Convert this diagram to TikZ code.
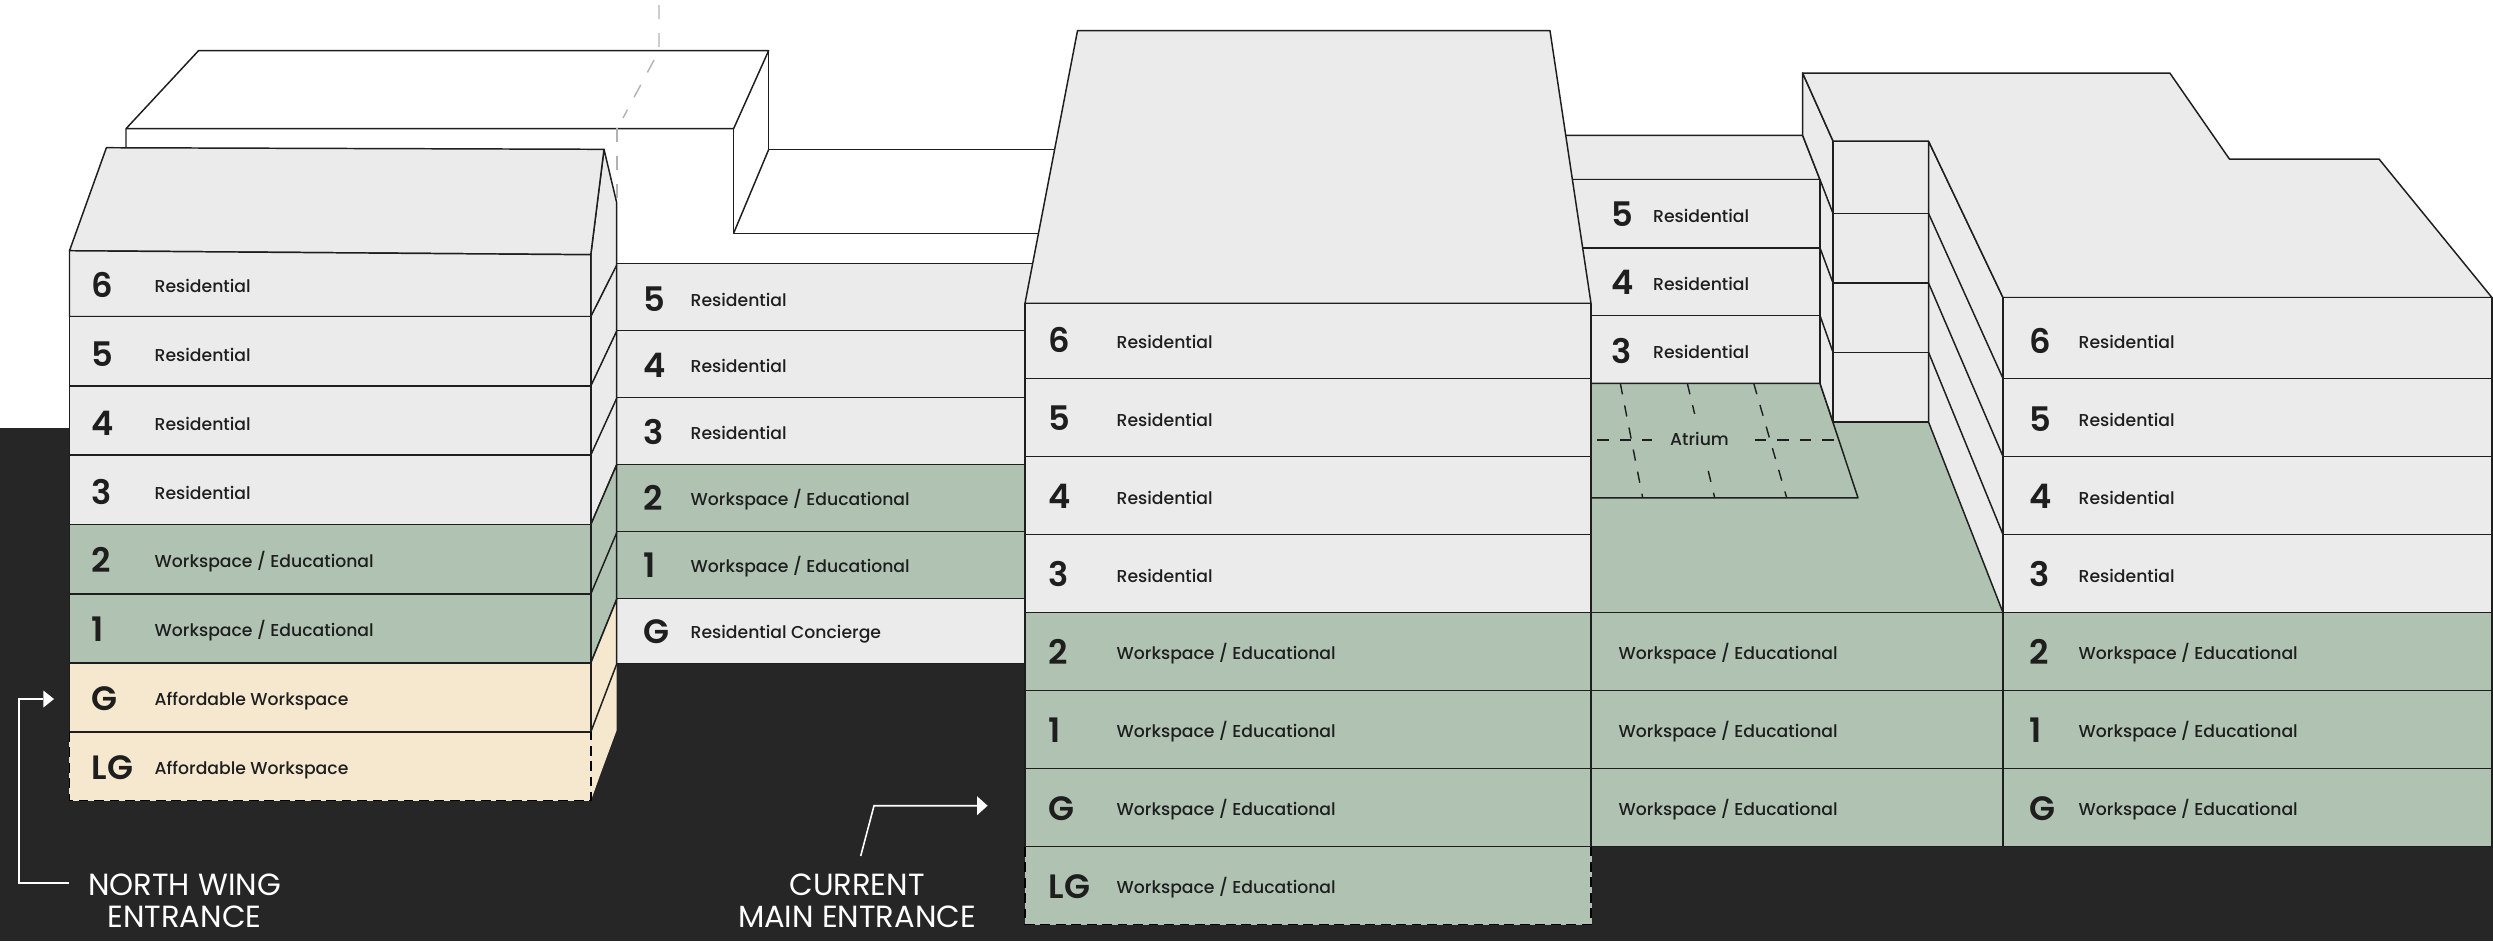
\documentclass[tikz,border=0pt]{standalone}
\usepackage{fontspec}
\setmainfont{Poppins}
\newfontfamily\usagefont{Poppins Medium}
\newfontfamily\levelfont{Poppins SemiBold}
\usepackage{tikz}
\usetikzlibrary{arrows}
\definecolor{dark}{HTML}{262626}
\definecolor{ink}{HTML}{1E1E1E}
\definecolor{flat}{HTML}{EBEBEB}
\definecolor{sage}{HTML}{B0C3B3}
\definecolor{cream}{HTML}{F6E8CF}
\tikzset{
  edge/.style={draw=ink,line width=0.42pt,line join=round},
  hidden/.style={draw=black,line width=0.45pt,dash pattern=on 2.8pt off 1.6pt},
  ghost/.style={draw=black!30,line width=0.4pt,dash pattern=on 4pt off 4pt},
  floorline/.style={draw=ink,line width=0.4pt,dash pattern=on 3.2pt off 3.2pt},
  flatfloor/.style={edge,fill=flat},
  sagefloor/.style={edge,fill=sage},
  creamfloor/.style={edge,fill=cream},
  level/.style={anchor=base west,inner sep=0pt,text=ink,yshift=-3.13pt,font=\fontsize{9.6}{10}\levelfont},
  usage/.style={anchor=base west,inner sep=0pt,text=ink,yshift=-1.85pt,font=\fontsize{4.9}{6}\usagefont},
  entrance/.style={align=center,inner sep=0pt,text=white,font=\fontsize{8.7}{8.95}\selectfont},
  walk/.style={draw=white,line width=0.45pt}
}
\begin{document}
\begin{tikzpicture}[>=stealth,x=0.01cm,y=-0.01cm]
        \useasboundingbox (0,0) rectangle (2493,941);
        % Ground
        \fill[dark] (0,428) rectangle (2493,941);
        % Upper wing, white
        \draw[edge] (126,149) -- (126,128.7) -- (198.5,50.7) -- (768.6,50.7) -- (733.6,128.7) -- (126,128.7);
        \draw[edge] (768.6,50.7) -- (768.6,149.7) -- (1060,149.7);
        \draw[edge] (733.6,128.7) -- (733.6,233.3) -- (1045,233.3);
        \draw[edge] (768.6,149.7) -- (733.6,233.3);
        \draw[ghost] (659,5) -- (659,50.7) -- (623,118);
        \draw[ghost] (617,128) -- (617,200);
        % Connecting wing
        \path[flatfloor] (616.7,263.7) rectangle (1045,330.7);
        \path[flatfloor] (616.7,330.7) rectangle (1045,397.3);
        \path[flatfloor] (616.7,397.3) rectangle (1045,464.3);
        \path[sagefloor] (616.7,464.3) rectangle (1045,531.3);
        \path[sagefloor] (616.7,531.3) rectangle (1045,598.3);
        \path[flatfloor] (616.7,598.3) rectangle (1045,663.3);
        % North wing, side
        \path[flatfloor] (604,149.3) -- (616.7,202.7) -- (616.7,464.7) -- (590.8,524.7) -- (590.8,254.7) -- cycle;
        \path[sagefloor] (590.8,524.7) -- (616.7,464.7) -- (616.7,599.3) -- (590.8,663) -- cycle;
        \fill[cream] (590.8,663) -- (616.7,599.3) -- (616.7,730) -- (600.8,773) -- (590.8,800.8) -- cycle;
        \draw[edge] (590.8,663) -- (616.7,599.3) -- (616.7,664) -- (590.8,732);
        \draw[edge] (590.8,316.7) -- (616.7,265);
        \draw[edge] (590.8,386) -- (616.7,331);
        \draw[edge] (590.8,455) -- (616.7,398.3);
        \draw[edge] (590.8,594) -- (616.7,532.7);
        % North wing, front
        \path[flatfloor] (69.5,250.7) -- (106.4,147.7) -- (604,149.3) -- (590.8,254.7) -- cycle;
        \path[flatfloor] (69.5,250.7) -- (590.8,254.7) -- (590.8,316.7) -- (69.5,316.7) -- cycle;
        \path[flatfloor] (69.5,316.7) rectangle (590.8,386);
        \path[flatfloor] (69.5,386) rectangle (590.8,455);
        \path[flatfloor] (69.5,455) rectangle (590.8,524.7);
        \path[sagefloor] (69.5,524.7) rectangle (590.8,594);
        \path[sagefloor] (69.5,594) rectangle (590.8,663);
        \path[creamfloor] (69.5,663) rectangle (590.8,732);
        \fill[cream] (69,732) rectangle (590.8,800.8);
        \draw[edge] (69.5,732) -- (590.8,732);
        \draw[hidden] (69.5,732) -- (69.5,800.3) -- (590.8,800.3) -- (590.8,732);
        % Atrium
        \path[flatfloor] (1555,135.3) -- (1802.6,135.3) -- (1820,179.7) -- (1555,179.7) -- cycle;
        \path[flatfloor] (1555,179.7) rectangle (1820,247.9);
        \path[flatfloor] (1555,247.9) rectangle (1820,315.6);
        \path[flatfloor] (1555,315.6) rectangle (1820,383.3);
        \fill[sage] (1591,383.3) -- (1820,383.3) -- (1833,422) -- (1928.5,422) -- (2003,612.6) -- (1591,612.6) -- cycle;
        \draw[edge] (1591,497.8) -- (1858,497.8) -- (1820,383.3) -- (1591,383.3);
        \draw[floorline] (1620.3,383.3) -- (1642.7,497.8);
        \draw[floorline] (1687.3,383.3) -- (1714.7,497.8);
        \draw[floorline] (1753.7,383.3) -- (1786.7,497.8);
        \draw[floorline] (1597.3,440) -- (1839,440);
        % Central block, front
        \path[flatfloor] (1025,303.3) -- (1077.5,30.7) -- (1550,30.7) -- (1591,303.3) -- cycle;
        \path[flatfloor] (1025,303.3) rectangle (1591,378.5);
        \path[flatfloor] (1025,378.5) rectangle (1591,456.4);
        \path[flatfloor] (1025,456.4) rectangle (1591,534.5);
        \path[flatfloor] (1025,534.5) rectangle (1591,612.6);
        \path[sagefloor] (1025,612.6) rectangle (1591,690.3);
        \path[sagefloor] (1025,690.3) rectangle (1591,768.3);
        \path[sagefloor] (1025,768.3) rectangle (1591,846.7);
        \fill[sage] (1024.5,846.7) rectangle (1591.5,924.8);
        \draw[edge] (1025,846.7) -- (1591,846.7);
        \draw[hidden] (1025,846.7) -- (1025,924.3) -- (1591,924.3) -- (1591,846.7);
        % Back of east wing
        \path[flatfloor] (1802.6,73) -- (1833,141) -- (1833,422) -- (1820,383.3) -- (1820,179.7) -- (1802.6,135.3) -- cycle;
        \draw[edge] (1820,179.7) -- (1833,213.4);
        \draw[edge] (1820,247.9) -- (1833,283);
        \draw[edge] (1820,315.6) -- (1833,352.3);
        \path[flatfloor] (1833,141) rectangle (1928.5,213.4);
        \path[flatfloor] (1833,213.4) rectangle (1928.5,283);
        \path[flatfloor] (1833,283) rectangle (1928.5,352.3);
        \path[flatfloor] (1833,352.3) rectangle (1928.5,422);
        \path[flatfloor] (1928.5,141) -- (2003,297.6) -- (2003,612.6) -- (1928.5,422) -- cycle;
        \draw[edge] (1928.5,213.4) -- (2003,378.5);
        \draw[edge] (1928.5,283) -- (2003,456.4);
        \draw[edge] (1928.5,352.3) -- (2003,534.5);
        % East wing, front
        \path[flatfloor] (1802.6,73) -- (2169.8,73) -- (2229.4,159) -- (2379,159) -- (2492,297.6) -- (2003,297.6) -- (1928.5,141) -- (1833,141) -- cycle;
        \path[flatfloor] (2003,297.6) rectangle (2492,378.5);
        \path[flatfloor] (2003,378.5) rectangle (2492,456.4);
        \path[flatfloor] (2003,456.4) rectangle (2492,534.5);
        \path[flatfloor] (2003,534.5) rectangle (2492,612.6);
        \path[sagefloor] (1591,612.6) rectangle (2003,690.3);
        \path[sagefloor] (1591,690.3) rectangle (2003,768.3);
        \path[sagefloor] (1591,768.3) rectangle (2003,846.7);
        \path[sagefloor] (2003,612.6) rectangle (2492,690.3);
        \path[sagefloor] (2003,690.3) rectangle (2492,768.3);
        \path[sagefloor] (2003,768.3) rectangle (2492,846.7);
        % Nodes, north wing
        \node(northsix) at (91,286)[level] {6};
        \node(northsixuse) at (154,286)[usage] {Residential};
        \node(northfive) at (91,355)[level] {5};
        \node(northfiveuse) at (154,355)[usage] {Residential};
        \node(northfour) at (91,424)[level] {4};
        \node(northfouruse) at (154,424)[usage] {Residential};
        \node(norththree) at (91,493)[level] {3};
        \node(norththreeuse) at (154,493)[usage] {Residential};
        \node(northtwo) at (91,561)[level] {2};
        \node(northtwouse) at (154,561)[usage] {Workspace / Educational};
        \node(northone) at (91,630)[level] {1};
        \node(northoneuse) at (154,630)[usage] {Workspace / Educational};
        \node(northground) at (91,699)[level] {G};
        \node(northgrounduse) at (154,699)[usage] {Affordable Workspace};
        \node(northlower) at (91,768)[level] {LG};
        \node(northloweruse) at (154,768)[usage] {Affordable Workspace};
        % Nodes, connecting wing
        \node(linkfive) at (643,300)[level] {5};
        \node(linkfiveuse) at (690,300)[usage] {Residential};
        \node(linkfour) at (643,366)[level] {4};
        \node(linkfouruse) at (690,366)[usage] {Residential};
        \node(linkthree) at (643,433)[level] {3};
        \node(linkthreeuse) at (690,433)[usage] {Residential};
        \node(linktwo) at (643,499)[level] {2};
        \node(linktwouse) at (690,499)[usage] {Workspace / Educational};
        \node(linkone) at (643,566)[level] {1};
        \node(linkoneuse) at (690,566)[usage] {Workspace / Educational};
        \node(linkground) at (643,632)[level] {G};
        \node(linkgrounduse) at (690,632)[usage] {Residential Concierge};
        % Nodes, central block
        \node(midsix) at (1048,341.5)[level] {6};
        \node(midsixuse) at (1116,341.5)[usage] {Residential};
        \node(midfive) at (1048,419.5)[level] {5};
        \node(midfiveuse) at (1116,419.5)[usage] {Residential};
        \node(midfour) at (1048,497.5)[level] {4};
        \node(midfouruse) at (1116,497.5)[usage] {Residential};
        \node(midthree) at (1048,575.5)[level] {3};
        \node(midthreeuse) at (1116,575.5)[usage] {Residential};
        \node(midtwo) at (1048,653)[level] {2};
        \node(midtwouse) at (1116,653)[usage] {Workspace / Educational};
        \node(midone) at (1048,731)[level] {1};
        \node(midoneuse) at (1116,731)[usage] {Workspace / Educational};
        \node(midground) at (1048,809)[level] {G};
        \node(midgrounduse) at (1116,809)[usage] {Workspace / Educational};
        \node(midlower) at (1048,887)[level] {LG};
        \node(midloweruse) at (1116,887)[usage] {Workspace / Educational};
        % Nodes, atrium
        \node(atrfive) at (1611,215.7)[level] {5};
        \node(atrfiveuse) at (1652.5,215.7)[usage] {Residential};
        \node(atrfour) at (1611,283.8)[level] {4};
        \node(atrfouruse) at (1652.5,283.8)[usage] {Residential};
        \node(atrthree) at (1611,352)[level] {3};
        \node(atrthreeuse) at (1652.5,352)[usage] {Residential};
        \node(atrium) at (1699.5,438.5)[fill=sage,minimum width=27pt,minimum height=14pt,inner sep=0pt,text=ink,font=\fontsize{4.9}{6}\usagefont] {Atrium};
        \node(atrtwouse) at (1618,653)[usage] {Workspace / Educational};
        \node(atroneuse) at (1618,731)[usage] {Workspace / Educational};
        \node(atrgrounduse) at (1618,809)[usage] {Workspace / Educational};
        % Nodes, east wing
        \node(eastsix) at (2029,342)[level] {6};
        \node(eastsixuse) at (2078,342)[usage] {Residential};
        \node(eastfive) at (2029,420)[level] {5};
        \node(eastfiveuse) at (2078,420)[usage] {Residential};
        \node(eastfour) at (2029,497.8)[level] {4};
        \node(eastfouruse) at (2078,497.8)[usage] {Residential};
        \node(eastthree) at (2029,575.8)[level] {3};
        \node(eastthreeuse) at (2078,575.8)[usage] {Residential};
        \node(easttwo) at (2029,653)[level] {2};
        \node(easttwouse) at (2078,653)[usage] {Workspace / Educational};
        \node(eastone) at (2029,731)[level] {1};
        \node(eastoneuse) at (2078,731)[usage] {Workspace / Educational};
        \node(eastground) at (2029,809)[level] {G};
        \node(eastgrounduse) at (2078,809)[usage] {Workspace / Educational};
        % Entrances
        \node(northdoor) at (184.5,901)[entrance] {NORTH WING\\ENTRANCE};
        \node(maindoor) at (857,901)[entrance] {CURRENT\\MAIN ENTRANCE};
        \coordinate(northfrom) at (69.3,883);
        \coordinate(northto) at (43.4,699);
        \coordinate(mainfrom) at (860.7,856);
        \coordinate(mainbend) at (874,805.7);
        \coordinate(mainto) at (977,805.7);
        % Links
        \draw[walk] (northfrom) -- (19,883) |- (northto);
        \draw[walk] (mainfrom) -- (mainbend) -- (mainto);
        \fill[white] (northto) ++(0,-8.5) -- ++(10.6,8.5) -- ++(-10.6,8.5) -- cycle;
        \fill[white] (mainto) ++(0,-9.5) -- ++(10.6,9.5) -- ++(-10.6,9.5) -- cycle;
    \end{tikzpicture}
\end{document}
